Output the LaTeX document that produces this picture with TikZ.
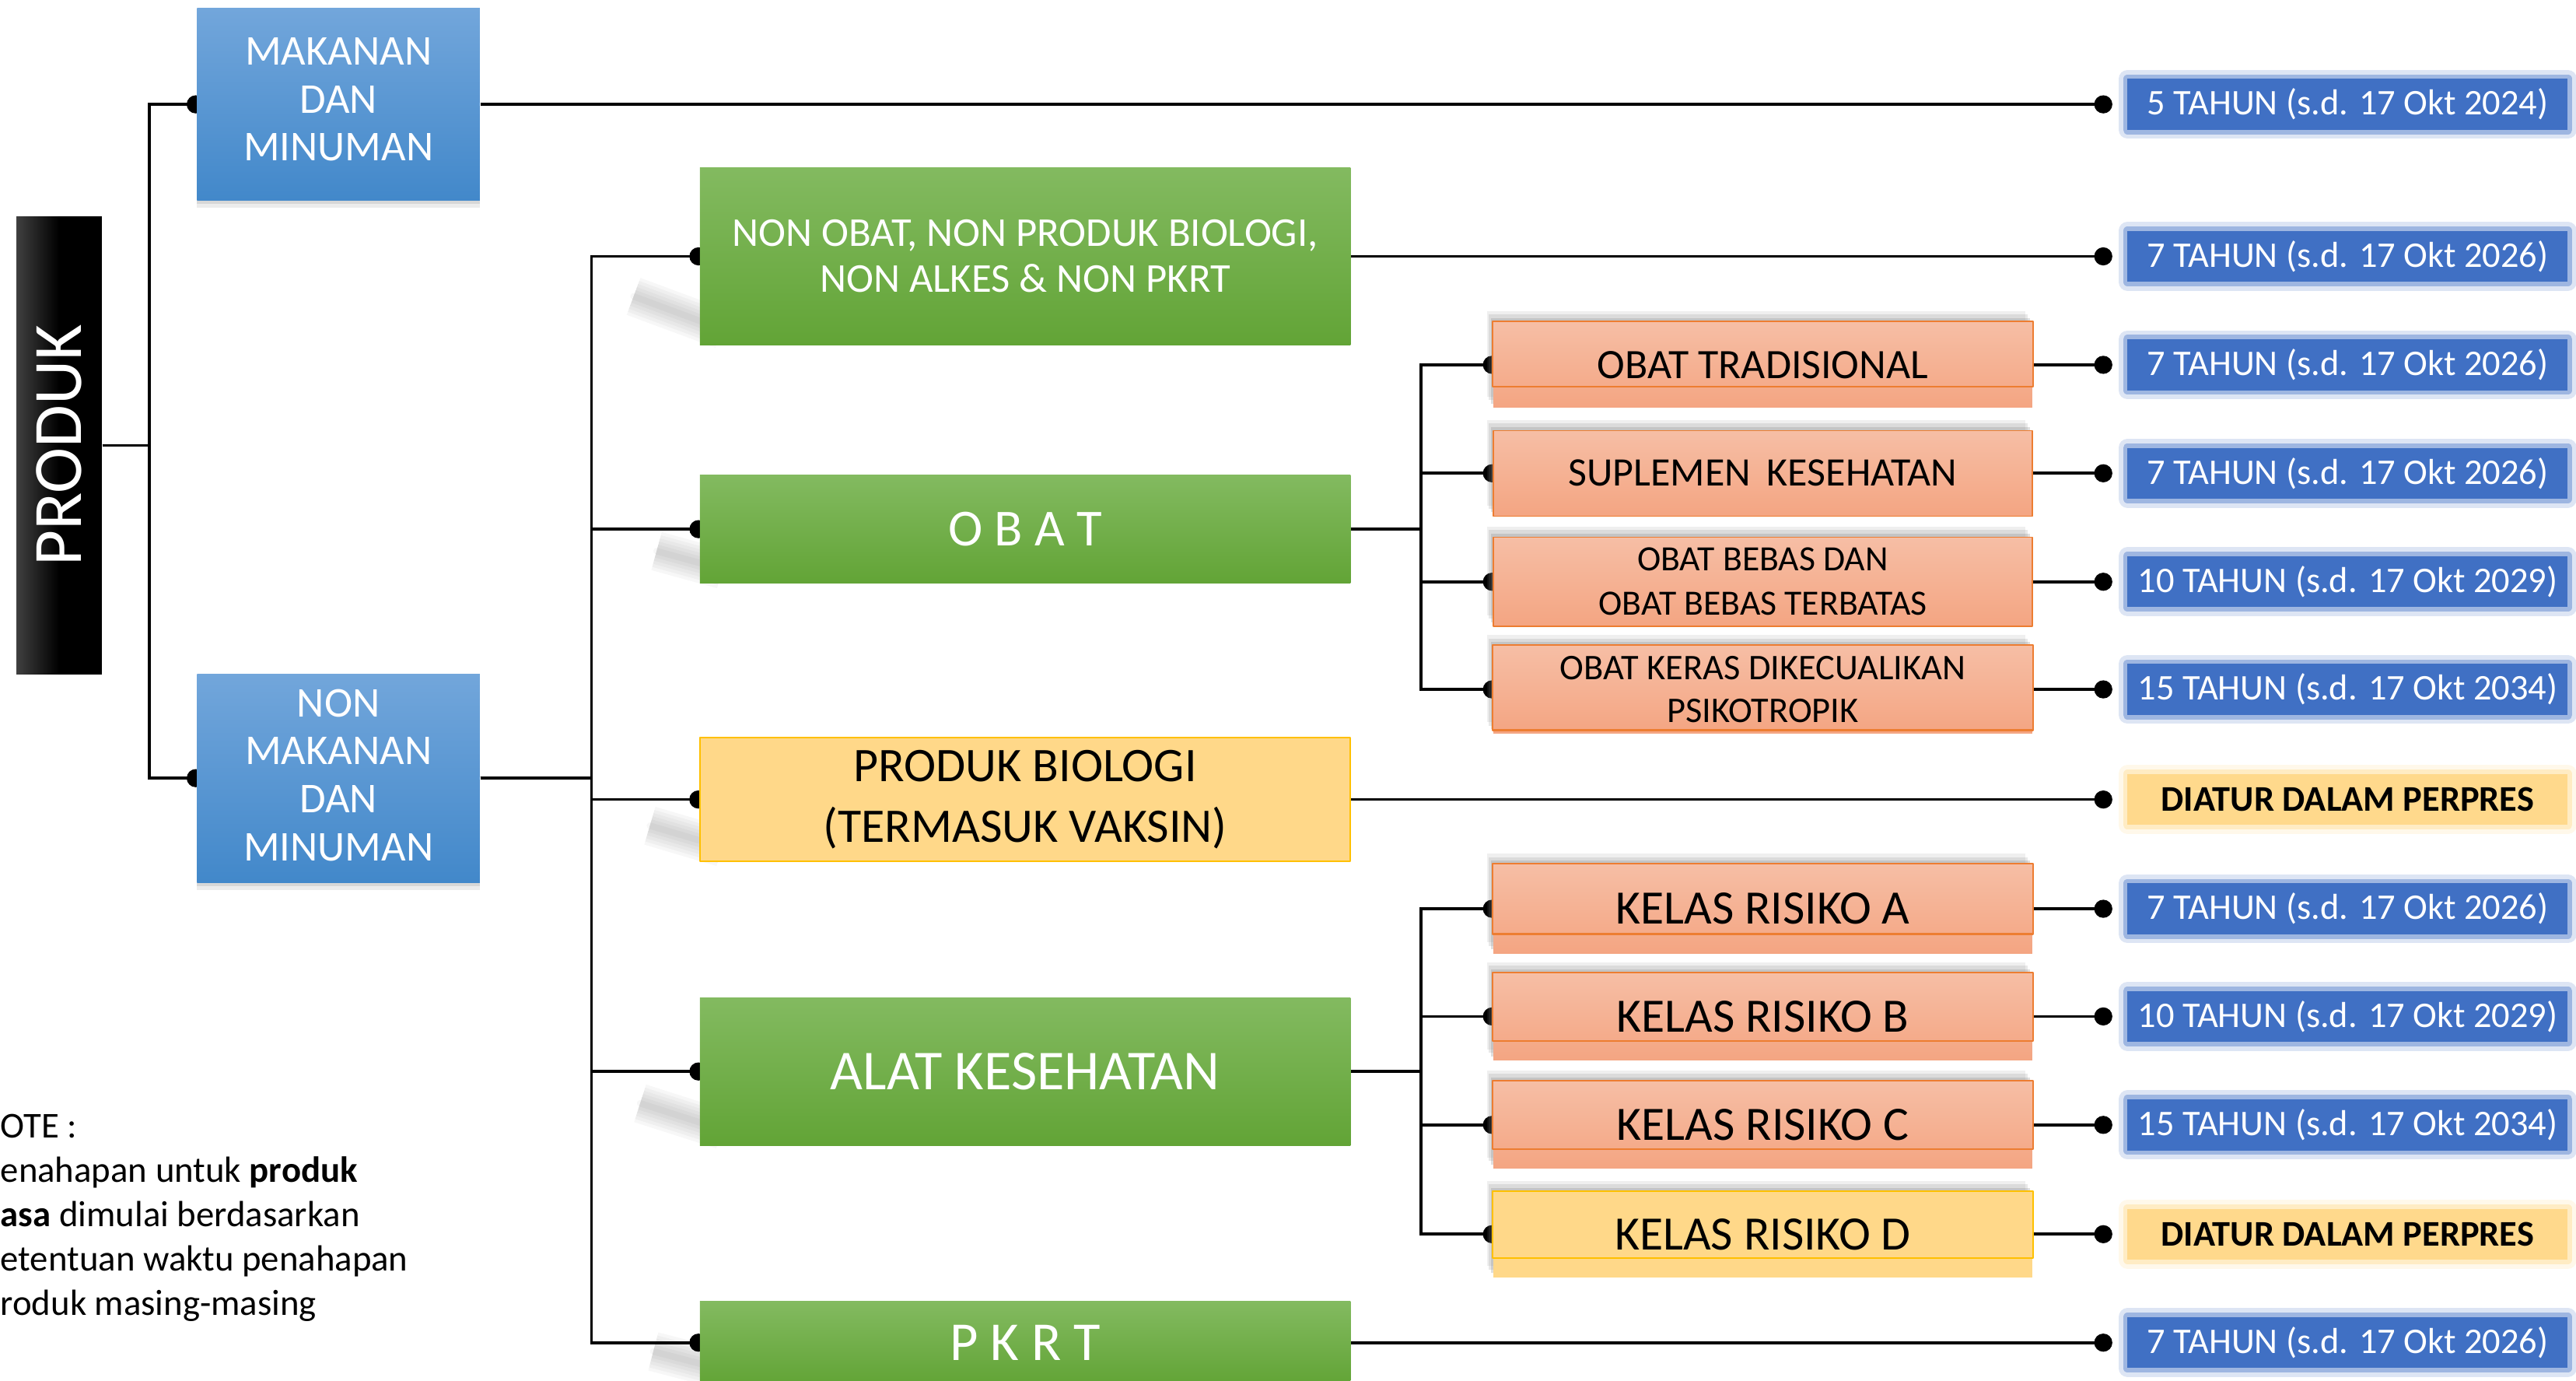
\documentclass[tikz,border=0pt]{standalone}
\usepackage{fontspec}
\setmainfont{Carlito}
\usepackage{graphicx}
\usetikzlibrary{arrows.meta,shadows,calc}

\definecolor{bluetop}{RGB}{114,166,219}
\definecolor{bluebot}{RGB}{66,136,202}
\definecolor{greentop}{RGB}{131,186,96}
\definecolor{greenbot}{RGB}{98,164,54}
\definecolor{pinktop}{RGB}{246,190,165}
\definecolor{pinkbot}{RGB}{244,165,130}
\definecolor{pinkedge}{RGB}{237,125,49}
\definecolor{ambfill}{RGB}{255,216,137}
\definecolor{ambedge}{RGB}{255,192,0}
\definecolor{labblue}{RGB}{64,112,196}
\definecolor{labamber}{RGB}{255,217,140}

\pgfdeclarelayer{background}
\pgfsetlayers{background,main}

\tikzset{
  link/.style={line width=1pt,-{Circle[length=2.2mm]},shorten >=-1mm},
  tolab/.style={line width=1pt,-{Circle[length=2.2mm]},shorten >=1.3mm},
  lead/.style={left color=black!75,right color=black,middle color=black,text=white,inner sep=0pt,
    minimum width=10.4mm,minimum height=55.6mm,font=\fontsize{24}{26}\selectfont},
  grpbox/.style={top color=bluetop,bottom color=bluebot,text=white,align=center,inner sep=0pt,
    minimum width=34.4mm,font=\fontsize{14.7}{16.6}\selectfont,
    drop shadow={shadow xshift=0mm,shadow yshift=-.9mm,opacity=.15},
    drop shadow={shadow xshift=0mm,shadow yshift=-.45mm,opacity=.2}},
  prodbox/.style={top color=greentop,bottom color=greenbot,text=white,align=center,inner sep=0pt,
    minimum width=79.2mm},
  ambbox/.style={fill=ambfill,draw=ambedge,line width=.5pt,align=center,inner sep=0pt,
    minimum width=79.2mm},
  subbox/.style={top color=pinktop,bottom color=pinkbot,align=center,inner sep=0pt,
    minimum width=65.6mm,font=\fontsize{14.5}{16.5}\selectfont,
    drop shadow={shadow xshift=-.8mm,shadow yshift=1.3mm,opacity=.13},
    drop shadow={shadow xshift=-.55mm,shadow yshift=.9mm,opacity=.18},
    drop shadow={shadow xshift=-.3mm,shadow yshift=.45mm,opacity=.25}},
  yrbox/.style={fill=#1,draw=#1,line width=1.1mm,draw opacity=.4,
    preaction={draw=#1,line width=2.2mm,draw opacity=.18},
    minimum width=53.6mm,minimum height=6.2mm,inner sep=0pt},
  period/.style={yrbox=labblue,text=white,font=\fontsize{12.5}{14}\selectfont},
  perpres/.style={yrbox=labamber,text=black,font=\fontsize{12.5}{14}\selectfont\bfseries},
  leanshadow/.style={line cap=round,draw=black,draw opacity=.03,line width=.8mm,
    preaction={draw=black,draw opacity=.03,line width=1.6mm},
    preaction={draw=black,draw opacity=.03,line width=2.4mm},
    preaction={draw=black,draw opacity=.03,line width=3.2mm},
    preaction={draw=black,draw opacity=.03,line width=4mm},
    preaction={draw=black,draw opacity=.03,line width=4.8mm}},
  notetext/.style={align=left,inner sep=0pt,font=\fontsize{12.6}{15.4}\selectfont}
}

\begin{document}
\begin{tikzpicture}[x=0.2mm,y=-0.2mm,line cap=round,line join=round]
\useasboundingbox (0,0) rectangle (1568,840);
\clip (0,0) rectangle (1568,840);

% left column
\node[lead] (produk) at (36,271) {\rotatebox{90}{PRODUK}};
\node[grpbox,minimum height=23.4mm,text depth=1.2mm] (makanan) at (206,63.5) {MAKANAN\\DAN\\MINUMAN};
\node[grpbox,minimum height=25.4mm,text depth=.8mm] (nonmm) at (206,473.5) {NON\\MAKANAN\\DAN\\MINUMAN};

% product groups
\node[prodbox,minimum height=21.6mm,font=\fontsize{14.2}{15.9}\selectfont] (nonobat) at (624,156) {NON OBAT, NON PRODUK BIOLOGI,\\NON ALKES \& NON PKRT};
\node[prodbox,minimum height=13.2mm,font=\fontsize{18}{20}\selectfont] (obat) at (624,322) {O B A T};
\node[ambbox,minimum height=15mm,font=\fontsize{16.7}{21}\selectfont] (biologi) at (624,486.5) {PRODUK BIOLOGI\\(TERMASUK VAKSIN)};
\node[prodbox,minimum height=18mm,font=\fontsize{19.5}{22}\selectfont] (alkes) at (624,652) {ALAT KESEHATAN};
\node[prodbox,minimum height=10mm,font=\fontsize{19}{22}\selectfont] (pkrt) at (624,817) {P K R T};

% obat and alkes classes
\node[subbox,minimum height=10.4mm] (trad) at (1073,222) {OBAT TRADISIONAL};
\node[subbox,draw=pinkedge,minimum height=10.4mm,font=\fontsize{14}{16}\selectfont] (suplemen) at (1073,288) {SUPLEMEN\hspace{.4em}KESEHATAN};
\node[subbox,draw=pinkedge,minimum height=10.8mm,font=\fontsize{12.3}{15.4}\selectfont] (bebas) at (1073,354) {OBAT BEBAS DAN\\OBAT BEBAS TERBATAS};
\node[subbox,minimum height=10.6mm,font=\fontsize{12.5}{14.8}\selectfont] (keras) at (1073,419.5) {OBAT KERAS DIKECUALIKAN\\PSIKOTROPIK};
\node[subbox,minimum height=10.8mm,font=\fontsize{16.6}{19}\selectfont] (kelasA) at (1073,553) {KELAS RISIKO A};
\node[subbox,minimum height=10.6mm,font=\fontsize{16.6}{19}\selectfont] (kelasB) at (1073,618.5) {KELAS RISIKO B};
\node[subbox,minimum height=10.6mm,font=\fontsize{16.6}{19}\selectfont] (kelasC) at (1073,684.5) {KELAS RISIKO C};
\node[subbox,top color=ambfill,bottom color=ambfill,minimum height=10.4mm,font=\fontsize{16.6}{19}\selectfont] (kelasD) at (1073,751) {KELAS RISIKO D};
\draw[pinkedge,line width=.6pt] (trad.north west) rectangle ([yshift=2.6mm]trad.south east);
\draw[pinkedge,line width=.6pt] (keras.north west) rectangle ([yshift=.4mm]keras.south east);
\draw[pinkedge,line width=.6pt] (kelasA.north west) rectangle ([yshift=2.4mm]kelasA.south east);
\draw[pinkedge,line width=.6pt] (kelasB.north west) rectangle ([yshift=2.4mm]kelasB.south east);
\draw[pinkedge,line width=.6pt] (kelasC.north west) rectangle ([yshift=2.4mm]kelasC.south east);
\draw[ambedge,line width=.6pt] (kelasD.north west) rectangle ([yshift=2.4mm]kelasD.south east);

% periods
\node[period] (t1) at (1429,63.5) {5 TAHUN (s.d. 17 Okt 2024)};
\node[period] (t2) at (1429,156) {7 TAHUN (s.d. 17 Okt 2026)};
\node[period] (t3) at (1429,222) {7 TAHUN (s.d. 17 Okt 2026)};
\node[period] (t4) at (1429,288) {7 TAHUN (s.d. 17 Okt 2026)};
\node[period] (t5) at (1429,354) {10 TAHUN (s.d. 17 Okt 2029)};
\node[period] (t6) at (1429,419.5) {15 TAHUN (s.d. 17 Okt 2034)};
\node[perpres] (t7) at (1429,486.5) {DIATUR DALAM PERPRES};
\node[period] (t8) at (1429,553) {7 TAHUN (s.d. 17 Okt 2026)};
\node[period] (t9) at (1429,618.5) {10 TAHUN (s.d. 17 Okt 2029)};
\node[period] (t10) at (1429,684.5) {15 TAHUN (s.d. 17 Okt 2034)};
\node[perpres] (t11) at (1429,751) {DIATUR DALAM PERPRES};
\node[period] (t12) at (1429,817) {7 TAHUN (s.d. 17 Okt 2026)};

\node[notetext,anchor=west] (note) at (0,741) {OTE :\\enahapan untuk \textbf{produk}\\\textbf{asa} dimulai berdasarkan\\etentuan waktu penahapan\\roduk masing-masing};

\coordinate (bus0) at (91,0);
\coordinate (bus1) at (360,0);
\coordinate (bus2) at (865,0);

\begin{pgfonlayer}{background}
\draw[leanshadow] ([shift={(-40,-30)}]nonobat.south west) -- ([shift={(14,-10)}]nonobat.south west);
\draw[leanshadow] ([shift={(-26,-20)}]obat.south west) -- ([shift={(14,-9)}]obat.south west);
\draw[leanshadow] ([shift={(-30,-22)}]biologi.south west) -- ([shift={(14,-9)}]biologi.south west);
\draw[leanshadow] ([shift={(-36,-26)}]alkes.south west) -- ([shift={(14,-10)}]alkes.south west);
\draw[leanshadow] ([shift={(-28,-20)}]pkrt.south west) -- ([shift={(14,-9)}]pkrt.south west);

\draw[link] (produk.east) -- (produk.east -| bus0) |- (makanan.west);
\draw[link] (produk.east) -- (produk.east -| bus0) |- (nonmm.west);
\draw[link] (nonmm.east) -- (nonmm.east -| bus1) |- (nonobat.west);
\draw[link] (nonmm.east) -- (nonmm.east -| bus1) |- (obat.west);
\draw[link] (nonmm.east) -- (nonmm.east -| bus1) |- (biologi.west);
\draw[link] (nonmm.east) -- (nonmm.east -| bus1) |- (alkes.west);
\draw[link] (nonmm.east) -- (nonmm.east -| bus1) |- (pkrt.west);
\draw[link] (obat.east) -- (obat.east -| bus2) |- (trad.west);
\draw[link] (obat.east) -- (obat.east -| bus2) |- (suplemen.west);
\draw[link] (obat.east) -- (obat.east -| bus2) |- (bebas.west);
\draw[link] (obat.east) -- (obat.east -| bus2) |- (keras.west);
\draw[link] (alkes.east) -- (alkes.east -| bus2) |- (kelasA.west);
\draw[link] (alkes.east) -- (alkes.east -| bus2) |- (kelasB.west);
\draw[link] (alkes.east) -- (alkes.east -| bus2) |- (kelasC.west);
\draw[link] (alkes.east) -- (alkes.east -| bus2) |- (kelasD.west);

\draw[tolab] (makanan.east) -- (t1.west);
\draw[tolab] (nonobat.east) -- (t2.west);
\draw[tolab] (trad.east) -- (t3.west);
\draw[tolab] (suplemen.east) -- (t4.west);
\draw[tolab] (bebas.east) -- (t5.west);
\draw[tolab] (keras.east) -- (t6.west);
\draw[tolab] (biologi.east) -- (t7.west);
\draw[tolab] (kelasA.east) -- (t8.west);
\draw[tolab] (kelasB.east) -- (t9.west);
\draw[tolab] (kelasC.east) -- (t10.west);
\draw[tolab] (kelasD.east) -- (t11.west);
\draw[tolab] (pkrt.east) -- (t12.west);
\end{pgfonlayer}
\end{tikzpicture}
\end{document}
